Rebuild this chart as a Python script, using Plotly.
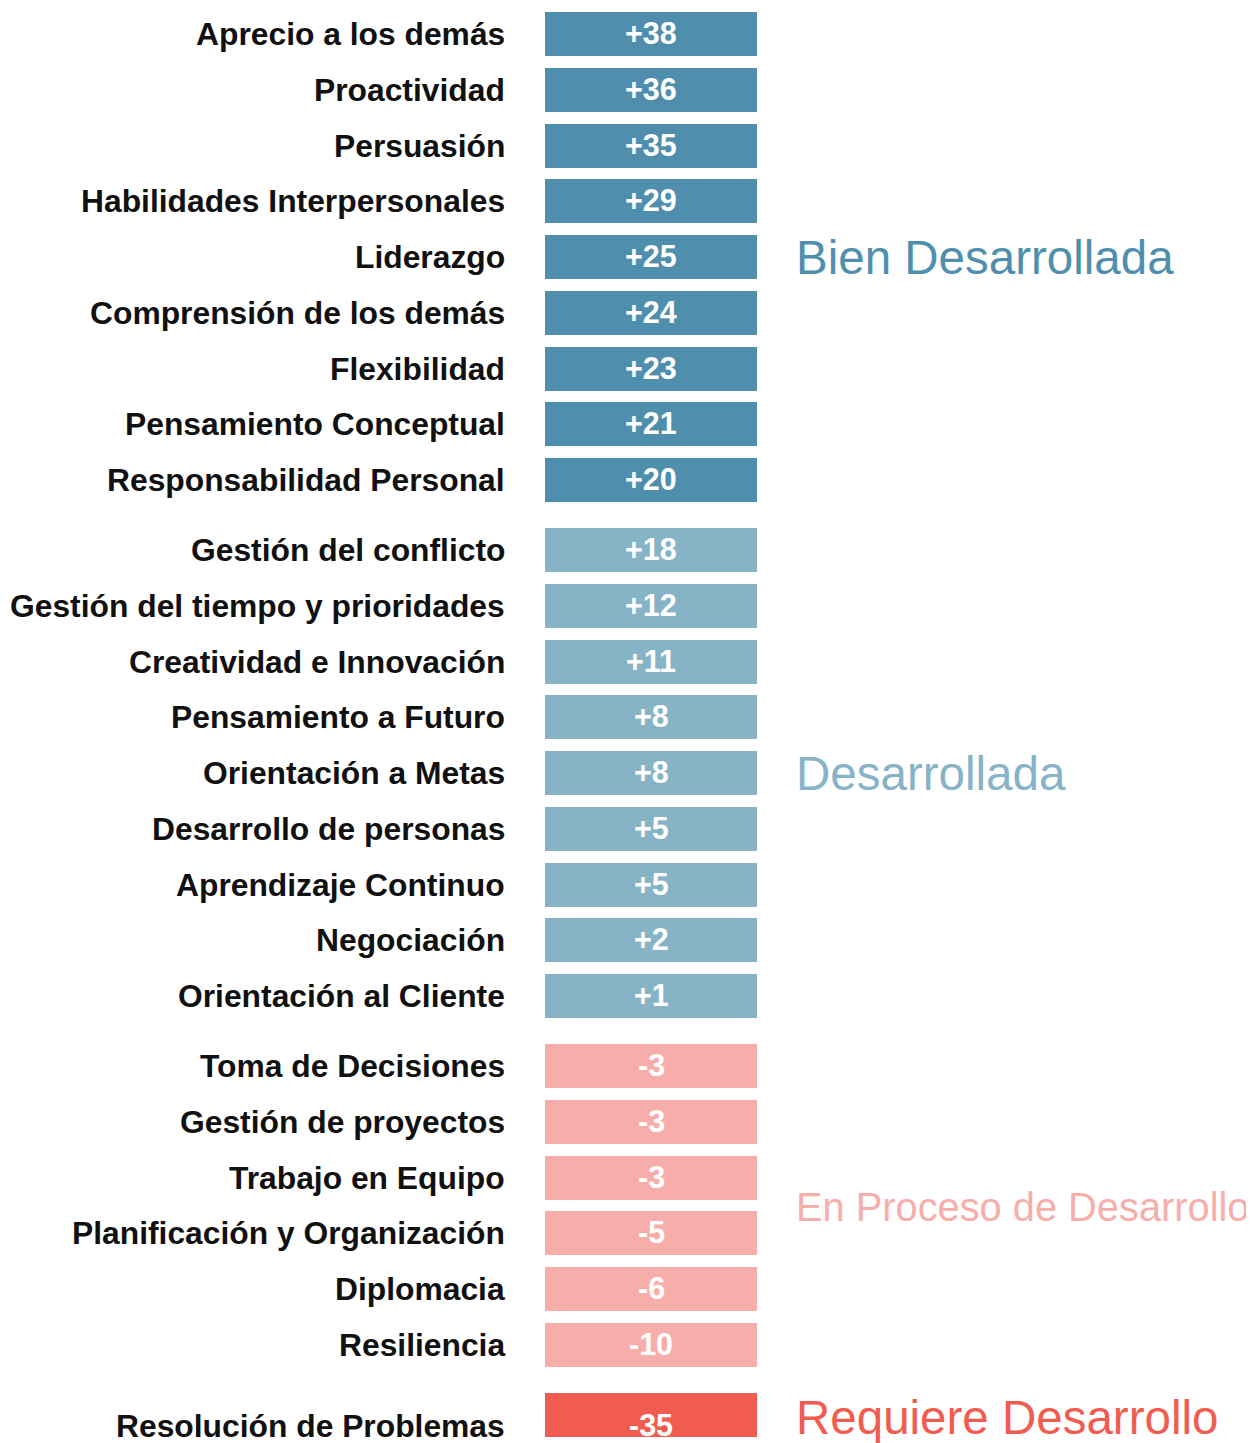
import plotly.graph_objects as go

categories = [
    "Aprecio a los demás", "Proactividad", "Persuasión", "Habilidades Interpersonales",
    "Liderazgo", "Comprensión de los demás", "Flexibilidad", "Pensamiento Conceptual",
    "Responsabilidad Personal",
    "Gestión del conflicto", "Gestión del tiempo y prioridades", "Creatividad e Innovación",
    "Pensamiento a Futuro", "Orientación a Metas", "Desarrollo de personas",
    "Aprendizaje Continuo", "Negociación", "Orientación al Cliente",
    "Toma de Decisiones", "Gestión de proyectos", "Trabajo en Equipo",
    "Planificación y Organización", "Diplomacia", "Resiliencia",
    "Resolución de Problemas",
]
values = [38, 36, 35, 29, 25, 24, 23, 21, 20,
          18, 12, 11, 8, 8, 5, 5, 2, 1,
          -3, -3, -3, -5, -6, -10,
          -35]
group_index = [0] * 9 + [1] * 9 + [2] * 6 + [3] * 1
group_names = ["Bien Desarrollada", "Desarrollada", "En Proceso de Desarrollo", "Requiere Desarrollo"]
group_colors = ["#4f8fad", "#86b3c6", "#f7aeaa", "#f15c51"]

OFF = 8  # page body margin
W, H = 1254 - OFF, 1443 - OFF
PITCH = 55.75
GROUP_GAP = 0.256

ypos = [i + GROUP_GAP * g for i, g in enumerate(group_index)]
bar_colors = [group_colors[g] for g in group_index]

fig = go.Figure()
fig.add_trace(go.Bar(
    y=ypos,
    x=[1] * len(categories),
    base=0,
    orientation="h",
    width=44 / PITCH,
    marker=dict(color=bar_colors, line=dict(width=0)),
    hovertext=categories,
    hoverinfo="text",
    showlegend=False,
))

annotations = []
for cat, v, y, g in zip(categories, values, ypos, group_index):
    shift = -11 if g == 3 else 0
    annotations.append(dict(
        xref="paper", yref="y", x=(507 - OFF) / W, y=y, xanchor="right", yanchor="middle",
        text=cat, showarrow=False, yshift=shift,
        font=dict(family="Liberation Sans, Arial", size=31.8, color="#111111", weight="bold"),
    ))
    annotations.append(dict(
        xref="x", yref="y", x=0.5, y=y, xanchor="center", yanchor="middle",
        text=f"{v:+d}", showarrow=False, yshift=shift + 1,
        font=dict(family="Liberation Sans, Arial", size=30.5, color="white", weight="bold"),
    ))

label_sizes = [47.5, 47.5, 39.8, 47.5]
for g, name in enumerate(group_names):
    ys = [y for y, gi in zip(ypos, group_index) if gi == g]
    yc = (min(ys) + max(ys)) / 2
    shift = -3 if g == 3 else (-2 if g == 2 else 0)
    annotations.append(dict(
        xref="paper", yref="y", x=(794 - OFF) / W, y=yc, xanchor="left", yanchor="middle",
        text=name, showarrow=False, yshift=shift,
        font=dict(family="Liberation Sans, Arial", size=label_sizes[g], color=group_colors[g]),
    ))

y_top = -(34 - OFF) / PITCH
y_bot = y_top + H / PITCH

fig.update_layout(
    width=W, height=H,
    margin=dict(l=0, r=0, t=0, b=0),
    paper_bgcolor="white", plot_bgcolor="white",
    xaxis=dict(domain=[(545 - OFF) / W, (757 - OFF) / W], range=[0, 1], visible=False, fixedrange=True),
    yaxis=dict(range=[y_bot, y_top], visible=False, fixedrange=True),
    annotations=annotations,
    bargap=0,
)

fig.write_html("out.html")
